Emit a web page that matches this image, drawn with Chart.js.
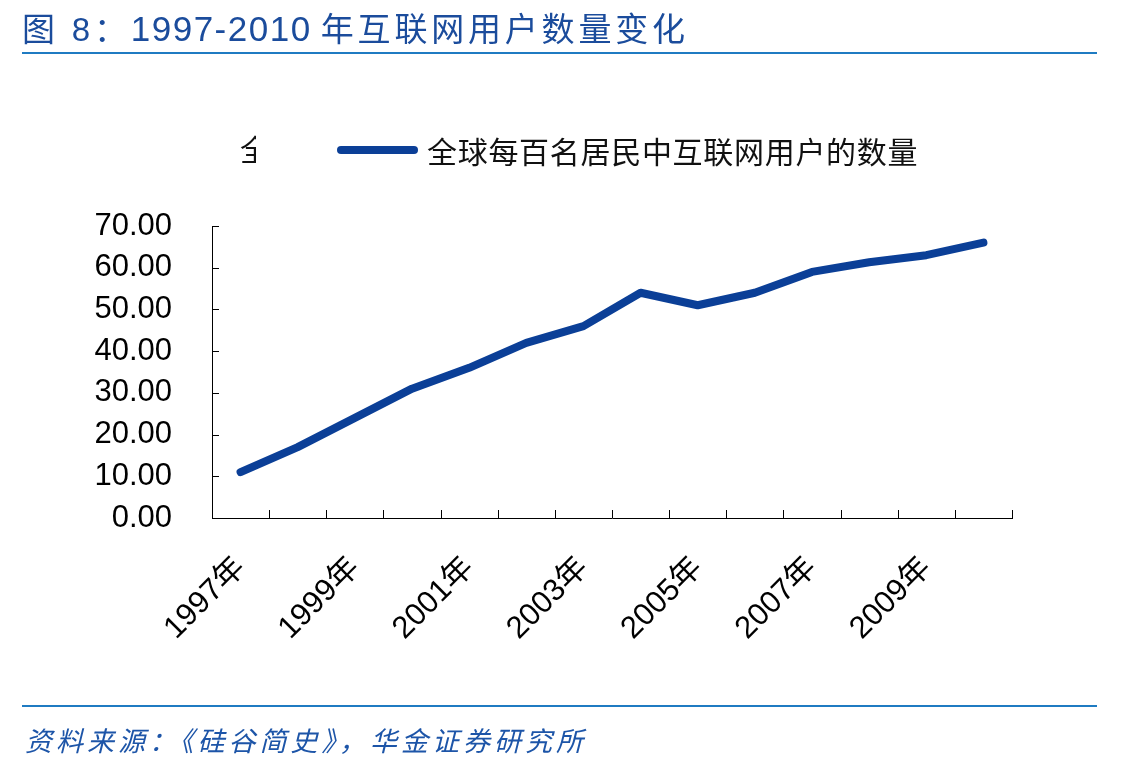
<!DOCTYPE html>
<html>
<head>
<meta charset="utf-8">
<script src="https://cdn.jsdelivr.net/npm/chart.js@4"></script>
<style>
  html, body { margin: 0; padding: 0; background: #fff; }
  body { width: 1145px; height: 771px; position: relative; overflow: hidden;
         font-family: "Liberation Sans", "Noto Sans CJK SC", sans-serif; }
  #title { position: absolute; left: 22px; top: 3px; font-size: 33px; color: #1B4C9C; white-space: nowrap; }
  #title .cjk { letter-spacing: 3.8px; }
  #title .num { font-size: 35px; letter-spacing: 1.5px; }
  .rule { position: absolute; left: 22px; width: 1075px; height: 2px; background: #1F7BC2; }
  #src { position: absolute; left: 25px; top: 720px; font-size: 27px; color: #1D55A8;
         font-style: italic; white-space: nowrap; font-family: "Noto Sans CJK SC", sans-serif; letter-spacing: 4px; }
  #legend { position: absolute; left: 337px; top: 128px; display: flex; align-items: center; }
  #legend .swatch { width: 81px; height: 8px; border-radius: 4px; background: #0B3F97; }
  #legend .txt { margin-left: 9px; font-size: 30px; color: #111; font-family: "Noto Sans CJK SC", sans-serif; letter-spacing: 0.7px; }
  #ghost { position: absolute; left: 240px; top: 126px; width: 16px; height: 40px; overflow: hidden;
           font-size: 30px; color: #111; font-family: "Noto Sans CJK SC", sans-serif; }
  #wrap { position: absolute; left: 0; top: 0; width: 1145px; height: 771px; }
</style>
</head>
<body>
<div id="wrap"><canvas id="netChart" width="1145" height="771"></canvas></div>
<div id="title"><span class="cjk">图 8：</span><span class="num">1997-2010</span> <span class="cjk">年互联网用户数量变化</span></div>
<div class="rule" style="top:52px"></div>
<div id="ghost">全</div>
<div id="legend"><div class="swatch"></div><div class="txt">全球每百名居民中互联网用户的数量</div></div>
<div class="rule" style="top:705px"></div>
<div id="src">资料来源：《硅谷简史》，华金证券研究所</div>

<script>
// data
const years = ['1997年', '1998年', '1999年', '2000年', '2001年', '2002年', '2003年',
               '2004年', '2005年', '2006年', '2007年', '2008年', '2009年', '2010年'];
const usersPer100 = [11.0, 17.0, 24.0, 31.0, 36.0, 42.0, 46.0, 54.0, 51.0, 54.0, 59.0, 61.3, 63.0, 66.0];
const xTickLabels = ['1997年', '', '1999年', '', '2001年', '', '2003年', '', '2005年', '', '2007年', '', '2009年', ''];
const yTicks = [0, 10, 20, 30, 40, 50, 60, 70];
const seriesName = '全球每百名居民中互联网用户的数量';

// tick marks drawn inside the plot area
const innerTicks = {
    id: 'innerTicks',
    afterDraw(chart) {
        const ctx = chart.ctx;
        const x = chart.scales.x, y = chart.scales.y;
        const n = years.length;
        const step = (x.right - x.left) / n;
        ctx.save();
        ctx.strokeStyle = '#000';
        ctx.lineWidth = 1;
        ctx.beginPath();
        for (let i = 1; i <= n; i++) {
            const px = Math.round(x.left + i * step) + 0.5;
            ctx.moveTo(px, y.bottom);
            ctx.lineTo(px, y.bottom - 8);
        }
        yTicks.forEach(v => {
            const py = Math.round(y.getPixelForValue(v)) + 0.5;
            ctx.moveTo(x.left, py);
            ctx.lineTo(x.left + 7, py);
        });
        ctx.stroke();
        ctx.restore();
    }
};

const ctx = document.getElementById('netChart').getContext('2d');
new Chart(ctx, {
    type: 'line',
    data: {
        labels: years,
        datasets: [{
            label: seriesName,
            data: usersPer100,
            borderColor: '#0B3F97',
            backgroundColor: '#0B3F97',
            borderWidth: 8,
            borderCapStyle: 'round',
            borderJoinStyle: 'round',
            pointRadius: 0,
            tension: 0
        }]
    },
    options: {
        responsive: false,
        animation: false,
        layout: { padding: { left: 0, top: 226, right: 133, bottom: 0 } },
        plugins: { legend: { display: false }, tooltip: { enabled: false } },
        scales: {
            x: {
                offset: true,
                grid: { display: false, drawTicks: false },
                border: { display: true, color: '#000', width: 1 },
                ticks: {
                    autoSkip: false,
                    minRotation: 45,
                    maxRotation: 45,
                    padding: 32,
                    color: '#000',
                    font: { family: '"Liberation Sans", "Noto Sans CJK SC", sans-serif', size: 31 },
                    callback: (v, i) => xTickLabels[i]
                },
                afterFit: s => { s.height = 253; }
            },
            y: {
                min: 0,
                max: 70,
                grid: { display: false, drawTicks: false },
                border: { display: true, color: '#000', width: 1 },
                ticks: {
                    stepSize: 10,
                    padding: 40,
                    color: '#000',
                    font: { family: '"Liberation Sans", sans-serif', size: 31 },
                    callback: v => v.toFixed(2)
                },
                afterFit: s => { s.width = 212; }
            }
        }
    },
    plugins: [innerTicks]
});
</script>
</body>
</html>
